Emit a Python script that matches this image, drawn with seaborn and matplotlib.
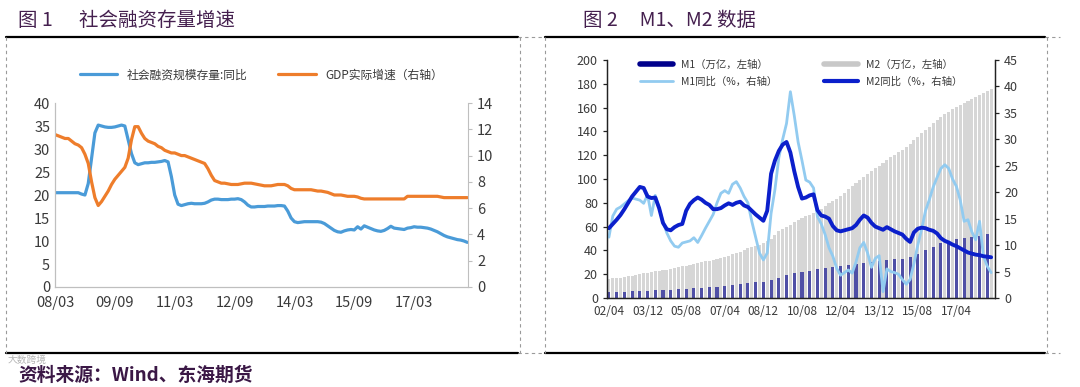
import matplotlib
matplotlib.use('Agg')
import matplotlib.pyplot as plt
import seaborn as sns
import numpy as np
import pandas as pd
from matplotlib.lines import Line2D

sns.set_style('white')
plt.rcParams['font.family'] = ['Noto Sans CJK SC', 'DejaVu Sans']
plt.rcParams['axes.unicode_minus'] = False

# ---------------- 图1 数据（月度，2008/03 起）----------------
sf_yoy = [20.5, 20.5, 20.5, 20.5, 20.5, 20.5, 20.5, 20.5, 20.2, 20.0,
          22.5, 28.0, 33.5, 35.2, 35.0, 34.8, 34.7, 34.7, 34.8, 35.0,
          35.2, 35.0, 32.0, 29.0, 27.0, 26.6, 26.8, 27.0, 27.0, 27.1,
          27.1, 27.2, 27.3, 27.5, 27.2, 24.0, 20.0, 18.0, 17.7, 17.9,
          18.1, 18.2, 18.1, 18.1, 18.1, 18.2, 18.5, 18.9, 19.1, 19.1,
          19.0, 19.0, 19.0, 19.1, 19.1, 19.2, 19.0, 18.5, 17.8, 17.4,
          17.4, 17.5, 17.5, 17.5, 17.6, 17.6, 17.6, 17.7, 17.7, 17.6,
          16.5, 15.0, 14.2, 14.0, 14.1, 14.2, 14.2, 14.2, 14.2, 14.2,
          14.1, 13.8, 13.3, 12.8, 12.3, 12.0, 11.9, 12.2, 12.4, 12.5,
          12.4, 13.1, 12.6, 13.3, 13.0, 12.7, 12.4, 12.2, 12.1, 12.3,
          12.7, 13.2, 12.8, 12.7, 12.6, 12.5, 12.8, 12.9, 13.1, 13.0,
          13.0, 12.9, 12.8, 12.6, 12.3, 12.0, 11.6, 11.2, 10.9, 10.7,
          10.5, 10.3, 10.2, 10.0, 9.7]
gdp = [11.6, 11.5, 11.4, 11.3, 11.3, 11.1, 10.9, 10.8, 10.6, 10.1,
       9.4, 8.0, 6.8, 6.2, 6.5, 6.9, 7.3, 7.8, 8.2, 8.5,
       8.8, 9.1, 9.8, 11.2, 12.2, 12.2, 11.7, 11.3, 11.1, 11.0,
       10.9, 10.7, 10.6, 10.4, 10.3, 10.2, 10.2, 10.1, 10.0, 10.0,
       9.9, 9.8, 9.7, 9.6, 9.5, 9.4, 9.0, 8.5, 8.1, 8.0,
       7.9, 7.9, 7.85, 7.8, 7.8, 7.8, 7.85, 7.9, 7.9, 7.9,
       7.85, 7.8, 7.75, 7.7, 7.7, 7.7, 7.75, 7.8, 7.8, 7.8,
       7.7, 7.5, 7.4, 7.4, 7.4, 7.4, 7.4, 7.4, 7.35, 7.3,
       7.3, 7.25, 7.2, 7.1, 7.0, 7.0, 7.0, 6.95, 6.9, 6.9,
       6.9, 6.85, 6.75, 6.7, 6.7, 6.7, 6.7, 6.7, 6.7, 6.7,
       6.7, 6.7, 6.7, 6.7, 6.7, 6.7, 6.9, 6.9, 6.9, 6.9,
       6.9, 6.9, 6.9, 6.9, 6.9, 6.9, 6.85, 6.8, 6.8, 6.8,
       6.8, 6.8, 6.8, 6.8, 6.8]
fig1_ticklabels = ['08/03', '09/09', '11/03', '12/09', '14/03', '15/09', '17/03']

# ---------------- 图2 数据（2002/04 起，双月 / 四月一点）----------------
m2_yoy = [13.2, 14.0, 14.8, 15.7, 16.8, 18.0, 19.2, 20.1, 21.0, 20.8,
          19.2, 18.9, 19.0, 17.0, 14.2, 13.0, 12.8, 13.4, 13.8, 14.0,
          16.5, 17.8, 18.5, 19.0, 18.6, 18.0, 17.6, 16.8, 16.8, 17.0,
          17.5, 17.9, 17.6, 18.0, 18.2, 17.5, 17.2, 16.5, 15.8, 15.2,
          14.6, 16.5, 23.5, 26.0, 27.8, 29.0, 29.5, 27.5, 24.0, 21.0,
          18.8, 19.0, 19.4, 19.6, 16.6, 15.6, 15.4, 15.0, 13.6, 12.8,
          12.6, 12.8, 13.0, 13.2, 13.8, 14.8, 15.6, 15.2, 14.2, 13.5,
          13.2, 12.9, 13.4, 13.0, 12.6, 12.3, 12.0, 11.2, 10.6, 12.4,
          13.1, 13.3, 13.2, 12.9, 12.7, 12.2, 11.3, 10.8, 10.5, 10.1,
          9.8, 9.4, 9.0, 8.6, 8.4, 8.2, 8.1, 7.9, 7.8, 7.7]
m1_yoy = [11.5, 15.5, 16.8, 17.2, 17.8, 18.4, 18.9, 18.7, 18.5, 17.9,
          19.5, 15.6, 19.4, 17.0, 14.4, 12.3, 10.8, 9.8, 9.6, 10.4,
          10.6, 10.8, 11.4, 10.5, 11.8, 13.2, 14.5, 15.8, 18.0, 19.8,
          20.3, 19.8, 21.5, 22.0, 20.8, 19.2, 18.0, 14.5, 11.5, 8.5,
          7.2, 8.5, 16.0, 20.5, 26.5, 30.0, 33.0, 39.0, 34.5, 29.5,
          26.0, 22.3, 21.9, 20.8, 15.4, 14.0, 12.0, 9.5, 7.9, 5.6,
          4.3, 4.8, 5.3, 4.7, 6.8, 9.5, 10.5, 8.5, 5.8, 7.5,
          8.0, 1.2, 5.5, 5.0, 4.8, 4.5, 3.5, 2.6, 3.5, 6.5,
          10.0, 13.0, 16.5, 18.6, 21.0, 22.8, 24.5, 25.2, 24.5, 22.5,
          21.1, 18.5, 14.5, 14.8, 12.5, 11.0, 14.5, 7.9, 6.0, 4.8]
m2_level = [16.0, 16.4, 16.8, 17.2, 17.6, 18.3, 18.8, 19.5, 20.2, 20.6,
            21.1, 21.5, 22.3, 23.0, 23.5, 23.9, 24.4, 25.0, 25.8, 26.5,
            27.0, 27.7, 28.4, 29.2, 30.0, 30.8, 31.5, 32.2, 33.1, 34.0,
            34.8, 35.7, 36.8, 37.8, 39.0, 40.5, 41.6, 42.7, 43.6, 44.8,
            46.0, 47.5, 50.0, 53.0, 56.0, 58.0, 60.0, 61.5, 63.5, 65.5,
            67.0, 68.5, 70.0, 71.5, 73.0, 75.0, 77.0, 79.5, 81.5, 83.5,
            86.0, 88.5, 91.5, 94.0, 97.0, 99.5, 102.0, 104.5, 106.5, 109.0,
            111.0, 113.5, 116.0, 118.5, 120.5, 122.5, 124.5, 126.5, 129.0, 132.5,
            135.5, 138.5, 141.0, 144.0, 147.0, 149.5, 152.0, 154.5, 156.5, 158.5,
            160.5, 162.0, 164.0, 165.5, 167.0, 168.5, 170.5, 172.0, 174.0, 176.0]
m1_level = [5.0, 5.2, 5.4, 5.8, 6.0, 6.3, 6.5, 6.7, 7.0, 7.2,
            7.6, 8.0, 8.5, 9.0, 9.6, 10.2, 11.0, 11.8, 12.6, 13.2,
            13.8, 14.8, 17.0, 19.0, 20.6, 22.0, 23.0, 24.0, 25.0, 26.0,
            26.8, 27.5, 28.5, 29.5, 30.5, 31.5, 32.0, 32.5, 33.0, 34.5,
            37.0, 40.0, 43.0, 46.0, 48.0, 49.5, 50.5, 51.5, 52.5, 53.5]
fig2_ticklabels = ['02/04', '03/12', '05/08', '07/04', '08/12',
                   '10/08', '12/04', '13/12', '15/08', '17/04']

# 月份序号
df1 = pd.DataFrame({'m': np.arange(len(sf_yoy)), 'sf': sf_yoy, 'gdp': gdp})
df2 = pd.DataFrame({'m': np.arange(len(m2_yoy)) * 2, 'm1y': m1_yoy,
                    'm2y': m2_yoy, 'm2': m2_level})
df3 = pd.DataFrame({'m': np.arange(len(m1_level)) * 4, 'm1': m1_level})

c_blue = '#4A9BD8'
c_orange = '#EE7D2B'
txt_c = '#3a3a3a'
title_c = '#45204f'

fig = plt.figure(figsize=(10.8, 3.87), dpi=100)
W, H = 1080, 387

def box(x0, y0, x1, y1):
    return [x0 / W, 1 - y1 / H, (x1 - x0) / W, (y1 - y0) / H]

# ---------------- 图1 ----------------
ax1 = fig.add_axes(box(55, 103, 468, 287))
ax1b = ax1.twinx()
sns.lineplot(data=df1, x='m', y='sf', ax=ax1, color=c_blue, lw=2.3)
sns.lineplot(data=df1, x='m', y='gdp', ax=ax1b, color=c_orange, lw=2.3)
ax1.set_xlim(0, len(sf_yoy) - 0.8)
ax1.set_ylim(0, 40)
ax1b.set_ylim(0, 14)
ax1.set_yticks(range(0, 41, 5))
ax1b.set_yticks(range(0, 15, 2))
ax1.set_xticks(np.arange(len(fig1_ticklabels)) * 18)
ax1.set_xticklabels(fig1_ticklabels)
for a in (ax1, ax1b):
    a.set_xlabel('')
    a.set_ylabel('')
    for s in a.spines.values():
        s.set_color('#bfbfbf')
    a.spines['top'].set_visible(False)
    a.tick_params(labelsize=10.5, colors='#bfbfbf', labelcolor=txt_c, length=3)
ax1.spines['right'].set_visible(False)
ax1.tick_params(axis='y', length=0)
ax1.tick_params(axis='x', direction='out', length=3)
ax1b.tick_params(axis='y', direction='out', length=3)
ax1.legend(handles=[Line2D([], [], color=c_blue, lw=2.3),
                    Line2D([], [], color=c_orange, lw=2.3)],
           labels=['社会融资规模存量:同比', 'GDP实际增速（右轴）'],
           ncol=2, loc='lower center', bbox_to_anchor=(0.5, 1.06),
           frameon=False, fontsize=8.5, handlelength=3.2, columnspacing=2.6,
           labelcolor=txt_c)

# ---------------- 图2 ----------------
ax2 = fig.add_axes(box(607, 60, 995, 298))
# native_scale 下 width 乘以相邻点间距
sns.barplot(data=df2, x='m', y='m2', ax=ax2, native_scale=True,
            color='#D6D6D6', saturation=1, width=0.8, errorbar=None,
            linewidth=0, edgecolor='none')
sns.barplot(data=df3, x='m', y='m1', ax=ax2, native_scale=True,
            color='#4F4FA6', saturation=1, width=0.4, errorbar=None,
            linewidth=0, edgecolor='none')
ax2b = ax2.twinx()
sns.lineplot(data=df2, x='m', y='m1y', ax=ax2b, color='#92CBF0', lw=2.0)
sns.lineplot(data=df2, x='m', y='m2y', ax=ax2b, color='#0B1FCB', lw=2.8)
ax2.set_xlim(-1, 200)
ax2.set_ylim(0, 200)
ax2b.set_ylim(0, 45)
ax2.set_yticks(range(0, 201, 20))
ax2b.set_yticks(range(0, 46, 5))
ax2.set_xticks(np.arange(len(fig2_ticklabels)) * 20)
ax2.set_xticklabels(fig2_ticklabels)
for a in (ax2, ax2b):
    a.set_xlabel('')
    a.set_ylabel('')
    a.spines['top'].set_visible(False)
    for s in a.spines.values():
        s.set_color('#222222')
        s.set_linewidth(0.9)
    a.tick_params(labelsize=9, colors='#222222', labelcolor=txt_c,
                  direction='out', length=3, width=0.9)
ax2.tick_params(axis='x', labelsize=8.5, pad=2)
ax2.legend(handles=[Line2D([], [], color='#00008B', lw=4),
                    Line2D([], [], color='#92CBF0', lw=2.0),
                    Line2D([], [], color='#C8C8C8', lw=4),
                    Line2D([], [], color='#0B1FCB', lw=3.0)],
           labels=['M1（万亿，左轴）', 'M1同比（%，右轴）',
                   'M2（万亿，左轴）', 'M2同比（%，右轴）'],
           ncol=2, loc='upper center', bbox_to_anchor=(0.5, 1.04),
           frameon=False, fontsize=7.5, handlelength=3.2, columnspacing=4.5,
           labelspacing=0.6, labelcolor=txt_c)

# ---------------- 标题、边框、资料来源 ----------------
fig.text(18 / W, 1 - 20 / H, '图 1      社会融资存量增速', fontsize=14,
         color=title_c, va='center', ha='left')
fig.text(583 / W, 1 - 20 / H, '图 2     M1、M2 数据', fontsize=14,
         color=title_c, va='center', ha='left')
fig.text(18 / W, 1 - 375 / H, '资料来源：Wind、东海期货', fontsize=13.5,
         color='#3b1846', fontweight='bold', va='center', ha='left')
fig.text(8 / W, 1 - 360 / H, '大数跨境', fontsize=7, color='#b5b5b5',
         va='center', ha='left')

def hline(y, x0, x1, **kw):
    fig.add_artist(Line2D([x0 / W, x1 / W], [1 - y / H, 1 - y / H], **kw))

def vline(x, y0, y1, **kw):
    fig.add_artist(Line2D([x / W, x / W], [1 - y0 / H, 1 - y1 / H], **kw))

solid = dict(color='black', lw=1.6)
dashed = dict(color='#9a9a9a', lw=0.8, ls=(0, (3, 3)))
for y in (37, 353):
    hline(y, 6, 518, **solid)
    hline(y, 518, 545, **dashed)
    hline(y, 545, 1045, **solid)
    hline(y, 1045, 1060, **dashed)
for x in (6, 520, 545, 1047):
    vline(x, 37, 353, **dashed)

fig.savefig('out.png', dpi=100)
